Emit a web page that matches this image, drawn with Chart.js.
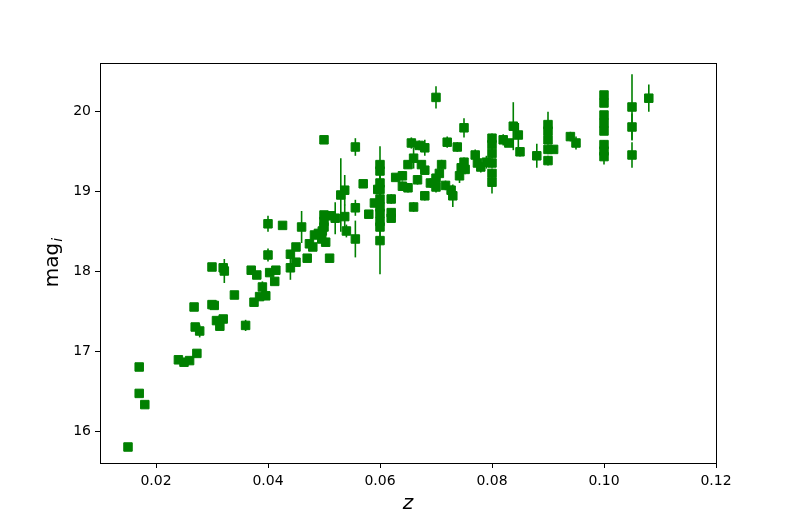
<!DOCTYPE html>
<html>
<head>
<meta charset="utf-8">
<script src="https://cdn.jsdelivr.net/npm/chart.js@4/dist/chart.umd.min.js"></script>
<style>
  html,body{margin:0;padding:0;background:#fff;}
  canvas{display:block;}
</style>
</head>
<body>
<canvas id="chartMag" width="797" height="522"></canvas>
<script>
// redshift z, magnitude mag_i and error on mag_i
const zVals = [
  0.015, 0.017, 0.017, 0.018, 0.024, 0.025, 0.026, 0.0273, 0.027, 0.0278,
  0.0268, 0.030, 0.0304, 0.0308, 0.0314, 0.032, 0.034, 0.030, 0.032, 0.0322,
  0.036, 0.0375, 0.037, 0.038, 0.0385, 0.039, 0.0396, 0.040, 0.040, 0.0403,
  0.0414, 0.0412, 0.0426, 0.044, 0.044, 0.045, 0.045, 0.046, 0.047, 0.0474,
  0.048, 0.0483, 0.049, 0.0496, 0.0497, 0.050, 0.050, 0.050, 0.050, 0.0503,
  0.051, 0.0513, 0.052, 0.053, 0.0537, 0.0537, 0.054, 0.0556, 0.0556, 0.0556,
  0.057, 0.058, 0.059, 0.0596,
  0.060, 0.060, 0.060, 0.060, 0.060, 0.060, 0.060, 0.060, 0.060, 0.060,
  0.062, 0.062, 0.062, 0.0628, 0.064, 0.064, 0.065, 0.065, 0.0656, 0.066,
  0.066, 0.0667, 0.067, 0.0674, 0.068, 0.068, 0.068, 0.069, 0.070, 0.070,
  0.070, 0.0706, 0.071, 0.0717, 0.072, 0.0727, 0.073, 0.0738, 0.0742, 0.0745,
  0.075, 0.075, 0.0752, 0.077, 0.0774, 0.078, 0.079,
  0.080, 0.080, 0.080, 0.080, 0.080, 0.080,
  0.082, 0.083, 0.0838, 0.0847, 0.085, 0.088,
  0.090, 0.090, 0.090, 0.090, 0.090,
  0.091, 0.094, 0.095,
  0.100, 0.100, 0.100, 0.100, 0.100, 0.100, 0.100, 0.100,
  0.105, 0.105, 0.105, 0.108
];
const magVals = [
  15.80, 16.80, 16.47, 16.33, 16.89, 16.86, 16.88, 16.97, 17.30, 17.25,
  17.55, 17.58, 17.57, 17.38, 17.31, 17.40, 17.70, 18.05, 18.04, 18.00,
  17.32, 17.61, 18.01, 17.95, 17.68, 17.80, 17.69, 18.59, 18.20, 17.98,
  18.01, 17.87, 18.57, 18.21, 18.04, 18.11, 18.30, 18.55, 18.16, 18.34,
  18.30, 18.45, 18.47, 18.40, 18.50, 18.70, 18.62, 18.55, 19.64, 18.36,
  18.16, 18.69, 18.66, 18.95, 19.01, 18.68, 18.50, 19.55, 18.79, 18.40,
  19.09, 18.71, 18.85, 19.02,
  19.33, 19.25, 19.10, 19.02, 18.90, 18.80, 18.72, 18.62, 18.55, 18.38,
  18.90, 18.73, 18.66, 19.17, 19.19, 19.06, 19.33, 19.04, 19.60, 18.80,
  19.41, 19.14, 19.57, 19.33, 19.54, 18.94, 19.26, 19.10, 19.16, 20.17,
  19.05, 19.22, 19.33, 19.07, 19.61, 19.01, 18.94, 19.55, 19.19, 19.29,
  19.36, 19.79, 19.27, 19.45, 19.35, 19.30, 19.36,
  19.66, 19.58, 19.47, 19.35, 19.22, 19.11,
  19.64, 19.60, 19.81, 19.70, 19.49, 19.44,
  19.83, 19.75, 19.64, 19.52, 19.38,
  19.52, 19.68, 19.60,
  20.20, 20.10, 19.95, 19.85, 19.75, 19.58, 19.50, 19.43,
  20.05, 19.80, 19.45, 20.16
];
const magErr = [
  0.03, 0.03, 0.03, 0.03, 0.04, 0.03, 0.03, 0.03, 0.04, 0.08,
  0.03, 0.03, 0.03, 0.03, 0.04, 0.03, 0.03, 0.03, 0.06, 0.15,
  0.07, 0.03, 0.05, 0.03, 0.04, 0.07, 0.03, 0.10, 0.08, 0.04,
  0.03, 0.03, 0.03, 0.05, 0.15, 0.03, 0.03, 0.20, 0.03, 0.04,
  0.03, 0.03, 0.04, 0.04, 0.05, 0.04, 0.05, 0.04, 0.03, 0.04,
  0.03, 0.04, 0.20, 0.46, 0.19, 0.15, 0.08, 0.11, 0.10, 0.23,
  0.03, 0.04, 0.04, 0.05,
  0.23, 0.10, 0.08, 0.10, 0.12, 0.10, 0.08, 0.10, 0.12, 0.42,
  0.06, 0.05, 0.04, 0.04, 0.06, 0.06, 0.05, 0.06, 0.07, 0.06,
  0.13, 0.06, 0.06, 0.05, 0.10, 0.06, 0.05, 0.06, 0.08, 0.14,
  0.07, 0.07, 0.06, 0.06, 0.07, 0.06, 0.14, 0.06, 0.09, 0.08,
  0.06, 0.12, 0.06, 0.07, 0.06, 0.07, 0.08,
  0.06, 0.06, 0.06, 0.06, 0.06, 0.14,
  0.07, 0.04, 0.30, 0.15, 0.06, 0.15,
  0.16, 0.06, 0.06, 0.06, 0.06,
  0.04, 0.06, 0.08,
  0.05, 0.05, 0.05, 0.05, 0.05, 0.05, 0.05, 0.10,
  0.41, 0.17, 0.16, 0.17
];
const xTicks = [0.02, 0.04, 0.06, 0.08, 0.10, 0.12];
const yTicks = [16, 17, 18, 19, 20];

const green = '#008000';
const tickFont = { family: '"DejaVu Sans"', size: 14 };

// vertical error bars, drawn under the markers
const errorBars = {
  id: 'errorBars',
  beforeDatasetsDraw(chart){
    const { ctx, scales:{ x, y } } = chart;
    ctx.save();
    ctx.strokeStyle = green;
    ctx.lineWidth = 1.6;
    zVals.forEach((z,i)=>{
      const px = x.getPixelForValue(z);
      ctx.beginPath();
      ctx.moveTo(px, y.getPixelForValue(magVals[i] - magErr[i]));
      ctx.lineTo(px, y.getPixelForValue(magVals[i] + magErr[i]));
      ctx.stroke();
    });
    ctx.restore();
  }
};

// frame on all four sides and the axis titles (mag with subscript i)
const frameAndTitles = {
  id: 'frameAndTitles',
  afterDraw(chart){
    const { ctx, chartArea:a } = chart;
    ctx.save();
    ctx.strokeStyle = '#000';
    ctx.lineWidth = 1;
    ctx.strokeRect(Math.round(a.left)+0.5, Math.round(a.top)+0.5, Math.round(a.right-a.left), Math.round(a.bottom-a.top));

    ctx.fillStyle = '#000';
    ctx.textAlign = 'center';
    ctx.textBaseline = 'alphabetic';
    ctx.font = 'italic 20px "DejaVu Sans"';
    ctx.fillText('z', (a.left+a.right)/2, 509);

    ctx.translate(58, (a.top+a.bottom)/2);
    ctx.rotate(-Math.PI/2);
    ctx.textAlign = 'left';
    ctx.font = '20px "DejaVu Sans"';
    const w1 = ctx.measureText('mag').width;
    ctx.font = 'italic 14px "DejaVu Sans"';
    const w2 = ctx.measureText('i').width;
    const start = -(w1 + w2)/2;
    ctx.font = '20px "DejaVu Sans"';
    ctx.fillText('mag', start, 0);
    ctx.font = 'italic 14px "DejaVu Sans"';
    ctx.fillText('i', start + w1 + 1, 4);
    ctx.restore();
  }
};

new Chart(document.getElementById('chartMag'), {
  type: 'scatter',
  data: {
    datasets: [{
      data: zVals.map((z,i)=>({ x: z, y: magVals[i] })),
      backgroundColor: green,
      borderColor: green,
      borderWidth: 1,
      pointStyle: 'rect',
      pointRadius: 6,
      pointHoverRadius: 6
    }]
  },
  options: {
    responsive: false,
    animation: false,
    layout: { padding: { left: 0, right: 81, top: 63, bottom: 0 } },
    plugins: { legend: { display: false }, tooltip: { enabled: false } },
    scales: {
      x: {
        type: 'linear',
        min: 0.01, max: 0.12,
        afterBuildTicks: s => { s.ticks = xTicks.map(v=>({ value: v })); },
        afterFit: s => { s.height = 59; },
        grid: { display: true, drawOnChartArea: false, drawTicks: true, tickLength: 5, tickColor: '#000', tickWidth: 1 },
        border: { display: true, color: '#000', width: 1 },
        ticks: { color: '#000', font: tickFont, padding: 5, maxRotation: 0, callback: v => v.toFixed(2) }
      },
      y: {
        type: 'linear',
        min: 15.6, max: 20.6,
        afterBuildTicks: s => { s.ticks = yTicks.map(v=>({ value: v })); },
        afterFit: s => { s.width = 100; },
        grid: { display: true, drawOnChartArea: false, drawTicks: true, tickLength: 5, tickColor: '#000', tickWidth: 1 },
        border: { display: true, color: '#000', width: 1 },
        ticks: { color: '#000', font: tickFont, padding: 4, callback: v => String(v) }
      }
    }
  },
  plugins: [errorBars, frameAndTitles]
});
</script>
</body>
</html>
